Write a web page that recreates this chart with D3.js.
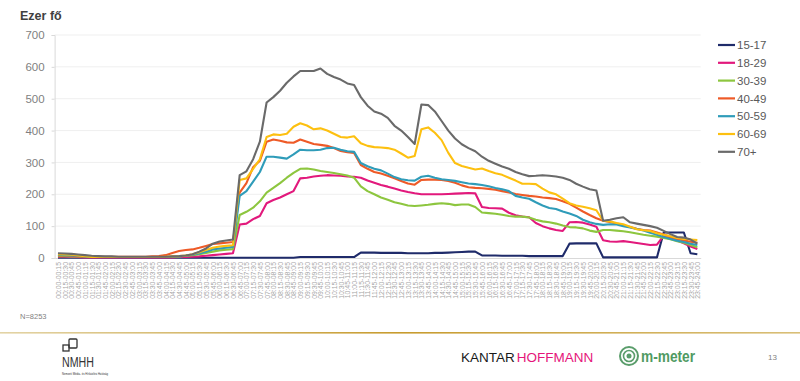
<!DOCTYPE html>
<html><head><meta charset="utf-8">
<script src="https://cdn.jsdelivr.net/npm/d3@7"></script>
<style>
body{margin:0;background:#fff;}
svg{display:block;font-family:"Liberation Sans",Arial,sans-serif;}
</style>
</head><body>
<svg id="c" width="800" height="381"></svg>
<script>
const timeLabels = [
"00:00-00:15","00:15-00:30","00:30-00:45","00:45-01:00","01:00-01:15","01:15-01:30","01:30-01:45","01:45-02:00",
"02:00-02:15","02:15-02:30","02:30-02:45","02:45-03:00","03:00-03:15","03:15-03:30","03:30-03:45","03:45-04:00",
"04:00-04:15","04:15-04:30","04:30-04:45","04:45-05:00","05:00-05:15","05:15-05:30","05:30-05:45","05:45-06:00",
"06:00-06:15","06:15-06:30","06:30-06:45","06:45-07:00","07:00-07:15","07:15-07:30","07:30-07:45","07:45-08:00",
"08:00-08:15","08:15-08:30","08:30-08:45","08:45-09:00","09:00-09:15","09:15-09:30","09:30-09:45","09:45-10:00",
"10:00-10:15","10:15-10:30","10:30-10:45","10:45-11:00","11:00-11:15","11:15-11:30","11:30-11:45","11:45-12:00",
"12:00-12:15","12:15-12:30","12:30-12:45","12:45-13:00","13:00-13:15","13:15-13:30","13:30-13:45","13:45-14:00",
"14:00-14:15","14:15-14:30","14:30-14:45","14:45-15:00","15:00-15:15","15:15-15:30","15:30-15:45","15:45-16:00",
"16:00-16:15","16:15-16:30","16:30-16:45","16:45-17:00","17:00-17:15","17:15-17:30","17:30-17:45","17:45-18:00",
"18:00-18:15","18:15-18:30","18:30-18:45","18:45-19:00","19:00-19:15","19:15-19:30","19:30-19:45","19:45-20:00",
"20:00-20:15","20:15-20:30","20:30-20:45","20:45-21:00","21:00-21:15","21:15-21:30","21:30-21:45","21:45-22:00",
"22:00-22:15","22:15-22:30","22:30-22:45","22:45-23:00","23:00-23:15","23:15-23:30","23:30-23:45","23:45-24:00"
];

const seriesNames = ["15-17","18-29","30-39","40-49","50-59","60-69","70+"];
const yTicks = [0,100,200,300,400,500,600,700];

const s1517 = [1,1,1,1,1,1,1,1,1,1,1,1,1,1,1,1,1,1,1,1,1,1,1,1,1,1,1,1,1,1,1,1,1,1,1,1,
3,3,3,3,3,3,3,3,3,
17,17,17,16,16,16,16,15,15,15,15,16,16,17,18,19,20,20,
8,8,8,7,7,7,7,6,6,6,6,6,6,
45,46,46,46,46,
2,2,2,2,2,2,2,2,2,
80,80,80,80,15,12];

const s1829 = [4,4,3,3,2,2,2,2,2,2,2,2,2,2,2,2,2,2,3,3,4,
5,7,9,11,13,15,
105,108,122,132,172,182,190,200,210,250,252,256,258,260,259,258,256,255,252,243,236,229,
224,218,212,207,203,200,200,200,200,201,202,203,204,203,160,157,156,155,142,134,130,128,110,100,
93,88,85,112,113,111,105,98,56,52,51,53,50,47,44,41,42,70,62,55,46,36,28];

const s3039 = [6,6,5,5,4,3,3,3,3,3,3,3,3,3,3,3,3,4,5,7,9,12,16,20,24,26,28,
135,145,158,178,205,220,235,252,267,280,281,278,273,270,267,263,259,252,225,210,200,190,
183,175,170,165,163,165,167,170,172,170,166,168,168,160,143,141,139,136,132,130,130,127,120,115,
112,108,102,97,96,93,86,82,88,88,86,84,81,77,73,70,67,63,59,53,48,41,34];

const s4049 = [8,8,7,6,4,4,4,4,4,4,4,4,4,4,5,6,9,16,22,25,27,32,38,44,46,48,50,
205,235,285,305,365,372,368,363,362,372,365,358,355,352,345,336,332,330,292,280,270,265,
258,250,242,234,230,245,246,246,245,242,236,228,222,220,219,217,214,210,206,201,198,195,193,190,
188,185,178,170,158,146,135,125,117,113,108,103,97,92,88,86,80,74,67,60,55,51,48];

const s5059 = [10,9,8,7,5,3,3,3,3,3,3,3,3,3,3,3,3,4,5,7,10,14,20,27,30,32,35,
195,210,240,270,318,318,315,312,325,340,338,338,340,345,346,340,335,333,298,288,280,275,
265,254,247,244,243,255,258,252,247,245,242,238,234,232,229,225,220,216,210,195,190,186,175,165,
157,154,146,140,132,120,112,107,104,106,105,100,96,91,86,79,73,66,60,54,50,45,41];

const s6069 = [12,11,10,8,6,3,3,3,3,3,3,3,3,3,3,3,4,5,6,8,12,18,25,32,36,38,40,
245,250,280,310,380,388,386,390,412,423,416,404,407,400,390,380,378,382,360,352,348,347,
345,340,328,315,320,404,410,393,370,330,298,289,283,278,281,273,266,261,252,243,233,233,232,218,
206,200,186,172,165,161,156,150,117,115,110,106,98,90,87,85,78,73,68,63,60,58,56];

const s70 = [15,14,13,11,9,7,6,5,5,4,4,4,4,4,4,4,4,5,6,8,12,20,30,45,52,55,58,
260,272,310,365,488,505,525,550,570,587,587,587,595,578,568,560,548,543,505,478,460,453,
440,415,400,380,358,482,480,460,430,400,375,357,345,335,318,305,296,287,280,270,263,257,258,260,
258,256,252,245,233,224,216,212,117,120,125,128,112,108,104,100,95,85,75,66,64,58,45];

const colors = ["#1f2b6a","#e2197c","#8dc63f","#ee5a27","#2f9cb9","#fdc010","#6a6a6a"];
const allSeries = [s1517,s1829,s3039,s4049,s5059,s6069,s70];

const svg = d3.select("#c");
const x = d3.scalePoint().domain(timeLabels).range([54.6, 700.7]).padding(0.5);
const y = d3.scaleLinear().domain([0,700]).range([258, 35]);

// gridlines
svg.append("g").selectAll("line").data(yTicks.filter(d=>d>0)).join("line")
  .attr("x1",54.6).attr("x2",700.7).attr("y1",d=>y(d)).attr("y2",d=>y(d))
  .attr("stroke","#efefef").attr("stroke-width",1);

// y axis
const yAxis = svg.append("g").attr("transform","translate(54.6,0)")
  .call(d3.axisLeft(y).tickValues(yTicks).tickSize(3).tickPadding(7));
yAxis.select(".domain").attr("stroke","#d9d9d9");
yAxis.selectAll(".tick line").attr("stroke","#d9d9d9");
yAxis.selectAll("text").attr("fill","#7f7f7f").style("font-size","11.5px")
  .style("font-family","'Liberation Sans',Arial,sans-serif");

// x axis
const xAxis = svg.append("g").attr("transform","translate(0,258)")
  .call(d3.axisBottom(x).tickSize(0).tickPadding(0));
xAxis.select(".domain").attr("stroke","#d9d9d9");
xAxis.selectAll("text")
  .attr("transform","rotate(-90)")
  .attr("x",-4).attr("y",0).attr("dy","0.35em")
  .attr("text-anchor","end")
  .attr("fill","#a6a6a6").style("font-size","6.9px")
  .style("font-family","'Liberation Sans',Arial,sans-serif");

// lines
const line = d3.line().x((d,i)=>x(timeLabels[i])).y(d=>y(d));
svg.append("g").selectAll("path").data(allSeries).join("path")
  .attr("d",d=>line(d)).attr("fill","none")
  .attr("stroke",(d,i)=>colors[i]).attr("stroke-width",2.1)
  .attr("stroke-linejoin","round");

// title
svg.append("text").attr("x",20).attr("y",20).text("Ezer fő")
  .attr("fill","#404040").style("font-size","12.5px").style("font-weight","bold");

// legend
const lg = svg.append("g");
seriesNames.forEach((n,i)=>{
  const yy = 45 + i*17.8;
  lg.append("line").attr("x1",718).attr("x2",735).attr("y1",yy).attr("y2",yy)
    .attr("stroke",colors[i]).attr("stroke-width",2.2);
  lg.append("text").attr("x",737).attr("y",yy).attr("dy","0.36em").text(n)
    .attr("fill","#595959").style("font-size","11.5px");
});

// footer
svg.append("text").attr("x",20).attr("y",319).text("N=8253")
  .attr("fill","#7f7f7f").style("font-size","7.5px");

const defs = svg.append("defs");
const gr = defs.append("linearGradient").attr("id","gold");
gr.append("stop").attr("offset","0%").attr("stop-color","#e3d4a6");
gr.append("stop").attr("offset","50%").attr("stop-color","#c79b2e");
gr.append("stop").attr("offset","100%").attr("stop-color","#d9bf78");
svg.append("rect").attr("x",0).attr("y",332).attr("width",800).attr("height",1.6).attr("fill","url(#gold)");

// NMHH logo
const nm = svg.append("g");
nm.append("rect").attr("x",63).attr("y",345).attr("width",6).attr("height",6).attr("fill","none").attr("stroke","#333").attr("stroke-width",1.3);
nm.append("rect").attr("x",69).attr("y",339).attr("width",8).attr("height",9).attr("rx",1).attr("fill","none").attr("stroke","#333").attr("stroke-width",1.3);
nm.append("text").attr("x",62).attr("y",367).text("NMHH").attr("fill","#333")
  .style("font-size","14px").style("font-weight","300").attr("textLength",32).attr("lengthAdjust","spacingAndGlyphs");
nm.append("text").attr("x",62).attr("y",375).text("Nemzeti Média- és Hírközlési Hatóság").attr("fill","#333")
  .style("font-size","3.6px").attr("textLength",46).attr("lengthAdjust","spacingAndGlyphs");

// Kantar Hoffmann
const kh = svg.append("text").attr("x",461).attr("y",362).style("font-size","13.5px");
kh.append("tspan").text("KANTAR").attr("fill","#1a1a1a");
kh.append("tspan").text("HOFFMANN").attr("fill","#e5157a").attr("dx",2);

// m-meter
const mm = svg.append("g");
mm.append("circle").attr("cx",629).attr("cy",356).attr("r",9).attr("fill","none").attr("stroke","#5a9d6b").attr("stroke-width",2);
mm.append("circle").attr("cx",629).attr("cy",356).attr("r",5.5).attr("fill","none").attr("stroke","#5a9d6b").attr("stroke-width",1.6);
mm.append("circle").attr("cx",629).attr("cy",356).attr("r",2.5).attr("fill","#5a9d6b");
mm.append("text").attr("x",641).attr("y",362).text("m-meter").attr("fill","#4f9a62")
  .style("font-size","16px").style("font-weight","bold").attr("textLength",54).attr("lengthAdjust","spacingAndGlyphs");

svg.append("text").attr("x",768).attr("y",360).text("13").attr("fill","#7f7f7f").style("font-size","8px");
</script>
</body></html>
